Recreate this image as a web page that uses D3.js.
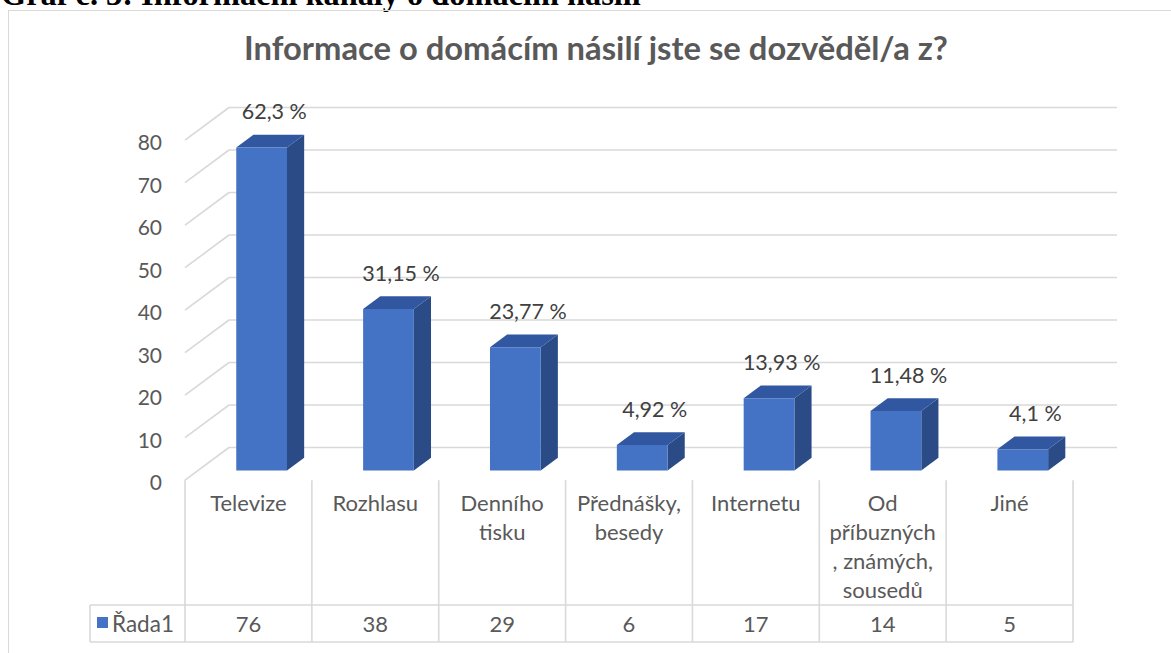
<!DOCTYPE html>
<html>
<head>
<meta charset="utf-8">
<script src="https://cdn.jsdelivr.net/npm/d3@7"></script>
<style>
  html, body { margin: 0; padding: 0; background: #fff; }
  svg { display: block; }
</style>
</head>
<body>
<svg id="chart" width="1171" height="653"></svg>
<script>
// ---- data ----
const categories = ["Televize", "Rozhlasu", "Denního tisku", "Přednášky, besedy", "Internetu", "Od příbuzných, známých, sousedů", "Jiné"];
const categoryLines = [["Televize"], ["Rozhlasu"], ["Denního", "tisku"], ["Přednášky,", "besedy"], ["Internetu"], ["Od", "příbuzných", ", známých,", "sousedů"], ["Jiné"]];
const values = [76, 38, 29, 6, 17, 14, 5];
const percentLabels = ["62,3 %", "31,15 %", "23,77 %", "4,92 %", "13,93 %", "11,48 %", "4,1 %"];
const yTicks = [0, 10, 20, 30, 40, 50, 60, 70, 80];
const seriesName = "Řada1";
const chartTitle = "Informace o domácím násilí jste se dozvěděl/a z?";
const docHeading = "Graf č. 3: Informační kanály o domácím násilí";

// ---- layout ----
const svg = d3.select("#chart");
const FONT = "Lato, 'Open Sans', sans-serif";
const TXT = "#595959";
const GRID = "#D9D9D9";

const frontLeft = 185, frontRight = 1073;
const depthDX = 44, depthDY = 32.7;        // full floor depth projection
const backBase = 447.5, backTop = 107.5;   // back wall y for 0 and 80

const x = d3.scaleBand().domain(categories).range([frontLeft, frontRight]).padding(0);
const y = d3.scaleLinear().domain([0, 80]).range([backBase, backTop]); // back wall
// projection: z=0 front, z=1 back
const px = (xf, z) => xf + z * depthDX;
const py = (v, z) => y(v) + (1 - z) * depthDY;

function fit(sel, base, w) {
  const l = sel.node().getComputedTextLength();
  sel.attr("font-size", base * w / l);
}

// page heading (cut off at the top, as in the source)
const head = svg.append("text")
  .attr("x", 1).attr("y", 5)
  .attr("font-family", "'Liberation Serif', 'Times New Roman', serif")
  .attr("font-weight", "bold").attr("font-size", 27).attr("fill", "#000")
  .text(docHeading);
fit(head, 27, 640);

// chart frame
svg.append("rect").attr("x", 8.5).attr("y", 10.5).attr("width", 1300).attr("height", 700)
  .attr("fill", "none").attr("stroke", GRID).attr("stroke-width", 1);

// title
const title = svg.append("text")
  .attr("x", 596).attr("y", 60).attr("text-anchor", "middle")
  .attr("font-family", FONT).attr("font-weight", "bold").attr("font-size", 27).attr("fill", TXT)
  .text(chartTitle);
fit(title, 27, 704);

// gridlines: back wall + left wall diagonals
const grid = svg.append("g").attr("stroke", GRID).attr("stroke-width", 1.6).attr("fill", "none");
grid.selectAll("line.back").data(yTicks).join("line").attr("class", "back")
  .attr("x1", px(frontLeft, 1)).attr("x2", px(frontRight, 1))
  .attr("y1", d => py(d, 1)).attr("y2", d => py(d, 1));
grid.selectAll("line.side").data(yTicks).join("line").attr("class", "side")
  .attr("x1", px(frontLeft, 0)).attr("x2", px(frontLeft, 1))
  .attr("y1", d => py(d, 0)).attr("y2", d => py(d, 1));

// y tick labels
svg.append("g").selectAll("text").data(yTicks).join("text")
  .attr("x", 162).attr("y", d => py(d, 0) + 2.5).attr("dy", "0.35em")
  .attr("text-anchor", "end").attr("font-family", FONT).attr("font-size", 21).attr("fill", TXT)
  .text(d => d);

// 3D bars
const z1 = 0.3, z2 = 0.69;
const barW = x.bandwidth() * 0.4;
const bars = svg.append("g");
categories.forEach((c, i) => {
  const v = values[i];
  const xl = x(c) + x.bandwidth() / 2 - barW / 2;
  const xr = xl + barW;
  const g = bars.append("g");
  // side face
  g.append("polygon").attr("fill", "#2B4B87")
    .attr("points", [[px(xr, z1), py(0, z1)], [px(xr, z2), py(0, z2)], [px(xr, z2), py(v, z2)], [px(xr, z1), py(v, z1)]].join(" "));
  // top face
  g.append("polygon").attr("fill", "#3157A0")
    .attr("points", [[px(xl, z1), py(v, z1)], [px(xl, z2), py(v, z2)], [px(xr, z2), py(v, z2)], [px(xr, z1), py(v, z1)]].join(" "));
  // front face
  g.append("polygon").attr("fill", "#4472C4")
    .attr("points", [[px(xl, z1), py(0, z1)], [px(xr, z1), py(0, z1)], [px(xr, z1), py(v, z1)], [px(xl, z1), py(v, z1)]].join(" "));
  // data label
  svg.append("text")
    .attr("x", (px(xl, z1) + px(xr, z2)) / 2 + 4)
    .attr("y", py(v, z2) - 23).attr("dy", "0.35em")
    .attr("text-anchor", "middle").attr("font-family", FONT).attr("font-size", 21.5).attr("fill", "#404040")
    .text(percentLabels[i]);
});

// data table
const tTop = 605, tBot = 642, tLeft = 90;
const table = svg.append("g").attr("stroke", GRID).attr("stroke-width", 1.6);
table.selectAll("line.v").data(categories.map(c => x(c)).concat([frontRight])).join("line").attr("class", "v")
  .attr("x1", d => d).attr("x2", d => d).attr("y1", py(0, 0)).attr("y2", tBot);
table.append("line").attr("x1", tLeft).attr("x2", frontRight).attr("y1", tTop).attr("y2", tTop);
table.append("line").attr("x1", tLeft).attr("x2", frontRight).attr("y1", tBot).attr("y2", tBot);
table.append("line").attr("x1", tLeft).attr("x2", tLeft).attr("y1", tTop).attr("y2", tBot);

// category labels
categories.forEach((c, i) => {
  const t = svg.append("text").attr("text-anchor", "middle")
    .attr("font-family", FONT).attr("font-size", 22).attr("fill", TXT);
  categoryLines[i].forEach((ln, j) => {
    t.append("tspan").attr("x", x(c) + x.bandwidth() / 2).attr("y", 503 + j * 29.2).attr("dy", "0.35em").text(ln);
  });
});

// values row
svg.append("g").selectAll("text").data(values).join("text")
  .attr("x", (d, i) => x(categories[i]) + x.bandwidth() / 2).attr("y", (tTop + tBot) / 2 + 1).attr("dy", "0.35em")
  .attr("text-anchor", "middle").attr("font-family", FONT).attr("font-size", 22).attr("fill", TXT)
  .text(d => d);

// legend key
svg.append("rect").attr("x", 97).attr("y", 617).attr("width", 11).attr("height", 11).attr("fill", "#4472C4");
svg.append("text").attr("x", 112).attr("y", (tTop + tBot) / 2 + 1).attr("dy", "0.35em")
  .attr("font-family", FONT).attr("font-size", 22.5).attr("fill", TXT).text(seriesName);
</script>
</body>
</html>
